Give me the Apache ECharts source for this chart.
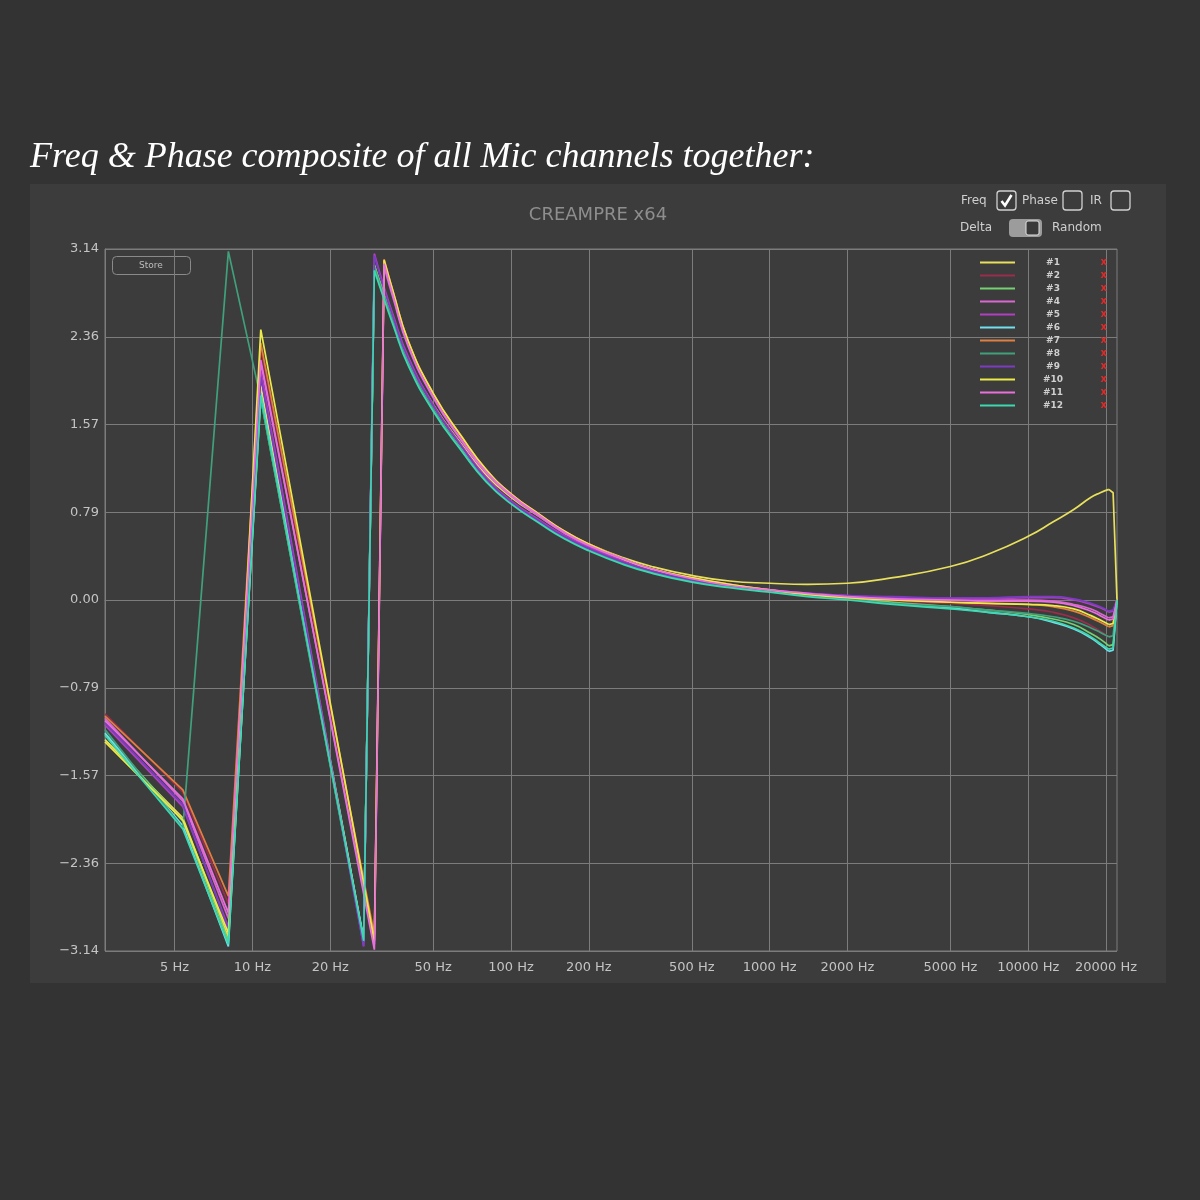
<!DOCTYPE html>
<html>
<head>
<meta charset="utf-8">
<script src="https://cdn.jsdelivr.net/npm/echarts@6/dist/echarts.min.js"></script>
<style>
  html, body { margin: 0; padding: 0; background: #333333; }
  #chart { width: 1200px; height: 1200px; }
</style>
</head>
<body>
<div id="chart"></div>
<script>
// ---------- DATA ----------
const PAGE_TITLE = "Freq & Phase composite of all Mic channels together:";
const CHART_TITLE = "CREAMPRE x64";
const X_TICKS_HZ = [5, 10, 20, 50, 100, 200, 500, 1000, 2000, 5000, 10000, 20000];
const X_MIN_HZ = 2.69;
const X_MAX_HZ = 22050;
const FREQ_HZ = [2.69, 5.38, 8.07, 10.77, 13.46, 16.15, 18.84, 21.53, 24.22, 26.92,
  29.61, 32.30, 35.0, 40, 50, 65, 80, 100, 130, 160,
  200, 270, 350, 500, 700, 1000, 1400, 2000, 3000, 5000,
  7000, 10000, 12500, 15000, 17500, 19000, 20500, 21300, 22050];

const SERIES_NAMES = ["#1","#2","#3","#4","#5","#6","#7","#8","#9","#10","#11","#12"];
const SERIES_COLORS = ["#e8e05c","#9a2c4c","#74d070","#d868d0","#b040c0","#70e0ee",
  "#e08040","#40a07c","#7c3cc0","#ecea48","#e870dc","#3cd8b0"];

const PHASE_1  = [-1.25,-1.95,-3.02, 1.92, 0.71,-0.27,-1.11,-1.83,-2.47,-3.04, 2.99, 2.74, 2.52, 2.16, 1.75, 1.38, 1.12, 0.92, 0.74, 0.61, 0.50, 0.38, 0.30, 0.22, 0.17, 0.15, 0.14, 0.15, 0.20, 0.30, 0.41, 0.57, 0.70, 0.81, 0.92, 0.96, 0.99, 0.96, 0.00];
const PHASE_2  = [-1.02,-1.72,-2.72, 2.25, 1.09, 0.14,-0.66,-1.35,-1.97,-2.52,-3.02, 3.03, 2.75, 2.31, 1.84, 1.44, 1.16, 0.95, 0.76, 0.62, 0.50, 0.37, 0.28, 0.20, 0.14, 0.09, 0.05, 0.02,-0.01,-0.03,-0.05,-0.08,-0.11,-0.16,-0.23,-0.28,-0.33,-0.32, 0.00];
const PHASE_3  = [-1.20,-1.98,-3.05, 1.80, 0.62,-0.35,-1.16,-1.87,-2.49,-3.04, 3.00, 2.73, 2.50, 2.13, 1.71, 1.34, 1.08, 0.88, 0.70, 0.57, 0.46, 0.34, 0.26, 0.18, 0.12, 0.08, 0.05, 0.02,-0.02,-0.06,-0.09,-0.13,-0.17,-0.22,-0.30,-0.35,-0.41,-0.40, 0.00];
const PHASE_4  = [-1.06,-1.80,-2.85, 2.12, 0.98, 0.04,-0.75,-1.44,-2.05,-2.59,-3.08, 2.98, 2.70, 2.27, 1.81, 1.41, 1.14, 0.93, 0.74, 0.60, 0.48, 0.36, 0.27, 0.19, 0.13, 0.09, 0.05, 0.03, 0.01, 0.00, 0.00, 0.00,-0.01,-0.04,-0.08,-0.12,-0.16,-0.15, 0.00];
const PHASE_5  = [-1.12,-1.85,-2.93, 2.05, 0.80,-0.23,-1.09,-1.84,-2.51,-3.10, 3.10, 2.80, 2.55, 2.18, 1.75, 1.37, 1.10, 0.89, 0.71, 0.58, 0.47, 0.35, 0.26, 0.18, 0.13, 0.09, 0.06, 0.04, 0.02, 0.01, 0.01, 0.02, 0.02, 0.00,-0.04,-0.07,-0.11,-0.10, 0.00];
const PHASE_6  = [-1.19,-2.02,-3.10, 1.85, 0.66,-0.31,-1.13,-1.84,-2.47,-3.03, 2.97, 2.71, 2.48, 2.12, 1.70, 1.33, 1.07, 0.87, 0.69, 0.56, 0.45, 0.33, 0.25, 0.17, 0.12, 0.08, 0.04, 0.01,-0.03,-0.07,-0.11,-0.15,-0.20,-0.26,-0.34,-0.40,-0.46,-0.45, 0.00];
const PHASE_7  = [-1.04,-1.70,-2.65, 2.30, 1.13, 0.18,-0.63,-1.33,-1.95,-2.50,-3.00, 3.05, 2.76, 2.32, 1.85, 1.45, 1.17, 0.95, 0.76, 0.62, 0.50, 0.37, 0.28, 0.20, 0.14, 0.09, 0.05, 0.02, 0.00,-0.02,-0.03,-0.04,-0.06,-0.10,-0.16,-0.20,-0.24,-0.23, 0.00];
const PHASE_8  = [-1.16,-2.04, 3.12, 1.80, 0.62,-0.36,-1.17,-1.88,-2.50,-3.06, 2.98, 2.72, 2.49, 2.12, 1.71, 1.33, 1.07, 0.87, 0.69, 0.56, 0.45, 0.33, 0.25, 0.17, 0.12, 0.08, 0.04, 0.01,-0.03,-0.06,-0.09,-0.12,-0.15,-0.19,-0.25,-0.29,-0.33,-0.32, 0.00];
const PHASE_9  = [-1.10,-1.83,-2.95, 2.00, 0.76,-0.26,-1.12,-1.86,-2.52,-3.10, 3.08, 2.78, 2.53, 2.16, 1.74, 1.36, 1.09, 0.88, 0.70, 0.57, 0.46, 0.34, 0.26, 0.18, 0.13, 0.09, 0.06, 0.04, 0.03, 0.02, 0.02, 0.03, 0.03, 0.01,-0.03,-0.06,-0.10,-0.09, 0.00];
const PHASE_10 = [-1.27,-1.97,-2.98, 2.42, 1.22, 0.23,-0.60,-1.32,-1.96,-2.53,-3.05, 3.04, 2.76, 2.32, 1.85, 1.45, 1.17, 0.95, 0.76, 0.62, 0.50, 0.37, 0.28, 0.20, 0.14, 0.09, 0.05, 0.02, 0.00,-0.02,-0.03,-0.04,-0.05,-0.08,-0.14,-0.18,-0.22,-0.21, 0.00];
const PHASE_11 = [-1.08,-1.78,-2.80, 2.15, 0.99, 0.04,-0.76,-1.46,-2.08,-2.63,-3.13, 3.01, 2.72, 2.28, 1.82, 1.42, 1.15, 0.94, 0.75, 0.61, 0.49, 0.37, 0.28, 0.19, 0.13, 0.09, 0.06, 0.03, 0.01, 0.00,-0.01,-0.01,-0.02,-0.05,-0.10,-0.14,-0.18,-0.17, 0.00];
const PHASE_12 = [-1.21,-2.05,-3.08, 1.83, 0.64,-0.33,-1.15,-1.86,-2.49,-3.05, 2.95, 2.69, 2.46, 2.10, 1.69, 1.32, 1.06, 0.86, 0.68, 0.55, 0.44, 0.32, 0.24, 0.16, 0.11, 0.07, 0.03, 0.00,-0.04,-0.08,-0.11,-0.15,-0.19,-0.25,-0.33,-0.39,-0.44,-0.43, 0.00];

const PHASES = [PHASE_1, PHASE_2, PHASE_3, PHASE_4, PHASE_5, PHASE_6,
  PHASE_7, PHASE_8, PHASE_9, PHASE_10, PHASE_11, PHASE_12];

// ---------- CHART ----------
const chart = echarts.init(document.getElementById('chart'), null, { renderer: 'canvas' });
const GRID = '#7c7c7c';
const LABEL = '#c4c4c4';
const SANS = 'DejaVu Sans, Noto Sans, sans-serif';

function fmtY(v) {
  if (Math.abs(v) < 1e-9) return '0.00';
  const s = Math.abs(v).toFixed(2);
  return v < 0 ? '\u2212' + s : s;
}

// Each channel is drawn as three pieces sharing one name (one legend entry):
// sharp wrapped sawtooth part, smooth decay part, sharp final edge.
const series = [];
SERIES_NAMES.forEach((name, i) => {
  const ph = PHASES[i];
  const pts = FREQ_HZ.map((f, k) => [f, ph[k]]);
  let wrap = 1;
  for (let k = 1; k < 16; k++) if (ph[k] - ph[k - 1] > 3) wrap = k;
  const endK = FREQ_HZ.length - 3;
  const base = {
    name: name, type: 'line', showSymbol: false, symbol: 'none',
    lineStyle: { width: 1.7, color: SERIES_COLORS[i] },
    itemStyle: { color: SERIES_COLORS[i] },
    animation: false, silent: true
  };
  series.push(Object.assign({}, base, { data: pts.slice(0, wrap + 1) }));
  series.push(Object.assign({}, base, { data: pts.slice(wrap, endK + 1), smooth: 0.5 }));
  series.push(Object.assign({}, base, { data: pts.slice(endK) }));
});

function checkbox(x, y, checked) {
  const els = [{
    type: 'rect', shape: { x: x, y: y, width: 19, height: 19, r: 3 },
    style: { fill: 'transparent', stroke: '#d0d0d0', lineWidth: 1.3 }
  }];
  if (checked) {
    els.push({
      type: 'polyline', shape: { points: [[x + 4.5, y + 10], [x + 8, y + 14.5], [x + 14.5, y + 4]] },
      style: { stroke: '#ffffff', lineWidth: 2.6, fill: 'none' }
    });
  }
  return els;
}

const ctrlText = (txt, x, y) => ({
  type: 'text', x: x, y: y,
  style: { text: txt, fill: '#cfcfcf', font: '12px ' + SANS, textVerticalAlign: 'middle' }
});

const graphic = [
  { type: 'rect', z: -10, shape: { x: 30, y: 184, width: 1136, height: 799 }, style: { fill: '#3c3c3c' } },
  { type: 'text', x: 30, y: 158,
    style: { text: PAGE_TITLE, fill: '#ffffff', font: 'italic 36px "Liberation Serif", "DejaVu Serif", serif', textVerticalAlign: 'middle' } },
  { type: 'text', x: 598, y: 215,
    style: { text: CHART_TITLE, fill: '#8e8e8e', font: '18px ' + SANS, textAlign: 'center', textVerticalAlign: 'middle' } },
  // Store button
  { type: 'rect', shape: { x: 112.5, y: 256.5, width: 78, height: 18, r: 4 },
    style: { fill: 'transparent', stroke: '#8a8a8a', lineWidth: 1 } },
  { type: 'text', x: 151, y: 265.5,
    style: { text: 'Store', fill: '#bdbdbd', font: '9px ' + SANS, textAlign: 'center', textVerticalAlign: 'middle' } },
  // controls
  ctrlText('Freq', 961, 201),
  ...checkbox(997, 191, true),
  ctrlText('Phase', 1022, 201),
  ...checkbox(1063, 191, false),
  ctrlText('IR', 1090, 201),
  ...checkbox(1111, 191, false),
  ctrlText('Delta', 960, 228),
  { type: 'rect', shape: { x: 1009, y: 219, width: 33, height: 18, r: 4 }, style: { fill: '#9c9c9c' } },
  { type: 'rect', shape: { x: 1026, y: 221, width: 13, height: 14, r: 2 }, style: { fill: '#3a3a3a', stroke: '#e0e0e0', lineWidth: 1 } },
  ctrlText('Random', 1052, 228)
];

const option = {
  backgroundColor: '#333333',
  animation: false,
  textStyle: { fontFamily: SANS },
  grid: {
    left: 105, right: 83, top: 249, bottom: 249,
    show: true, borderColor: GRID, borderWidth: 1, backgroundColor: 'transparent'
  },
  legend: {
    orient: 'vertical',
    left: 975, top: 252,
    itemWidth: 35, itemHeight: 2, itemGap: 2,
    icon: 'rect',
    selectedMode: false,
    data: SERIES_NAMES,
    formatter: n => '{n|' + n + '}{x|x}',
    textStyle: {
      color: '#cfcfcf', fontSize: 9, lineHeight: 11,
      rich: {
        n: { width: 66, align: 'center', fontSize: 9, color: '#cfcfcf', fontWeight: 'bold', lineHeight: 11 },
        x: { width: 21, align: 'right', fontSize: 10, color: '#e02a2a', fontWeight: 'bold', lineHeight: 11 }
      }
    }
  },
  xAxis: {
    type: 'log',
    logBase: 10,
    min: X_MIN_HZ,
    max: X_MAX_HZ,
    axisLine: { show: true, lineStyle: { color: GRID } },
    axisTick: { show: false, customValues: X_TICKS_HZ },
    axisLabel: {
      customValues: X_TICKS_HZ,
      color: LABEL, fontSize: 13, margin: 10,
      formatter: v => Math.round(v) + ' Hz'
    },
    splitLine: { show: true, lineStyle: { color: GRID, width: 1 } },
    minorSplitLine: { show: false }
  },
  yAxis: {
    type: 'value',
    min: -Math.PI, max: Math.PI, interval: Math.PI / 4,
    axisLine: { show: true, lineStyle: { color: GRID } },
    axisTick: { show: false },
    axisLabel: { color: LABEL, fontSize: 13, margin: 6, formatter: fmtY },
    splitLine: { show: true, lineStyle: { color: GRID, width: 1 } }
  },
  graphic: graphic,
  series: series
};
chart.setOption(option);
</script>
</body>
</html>
